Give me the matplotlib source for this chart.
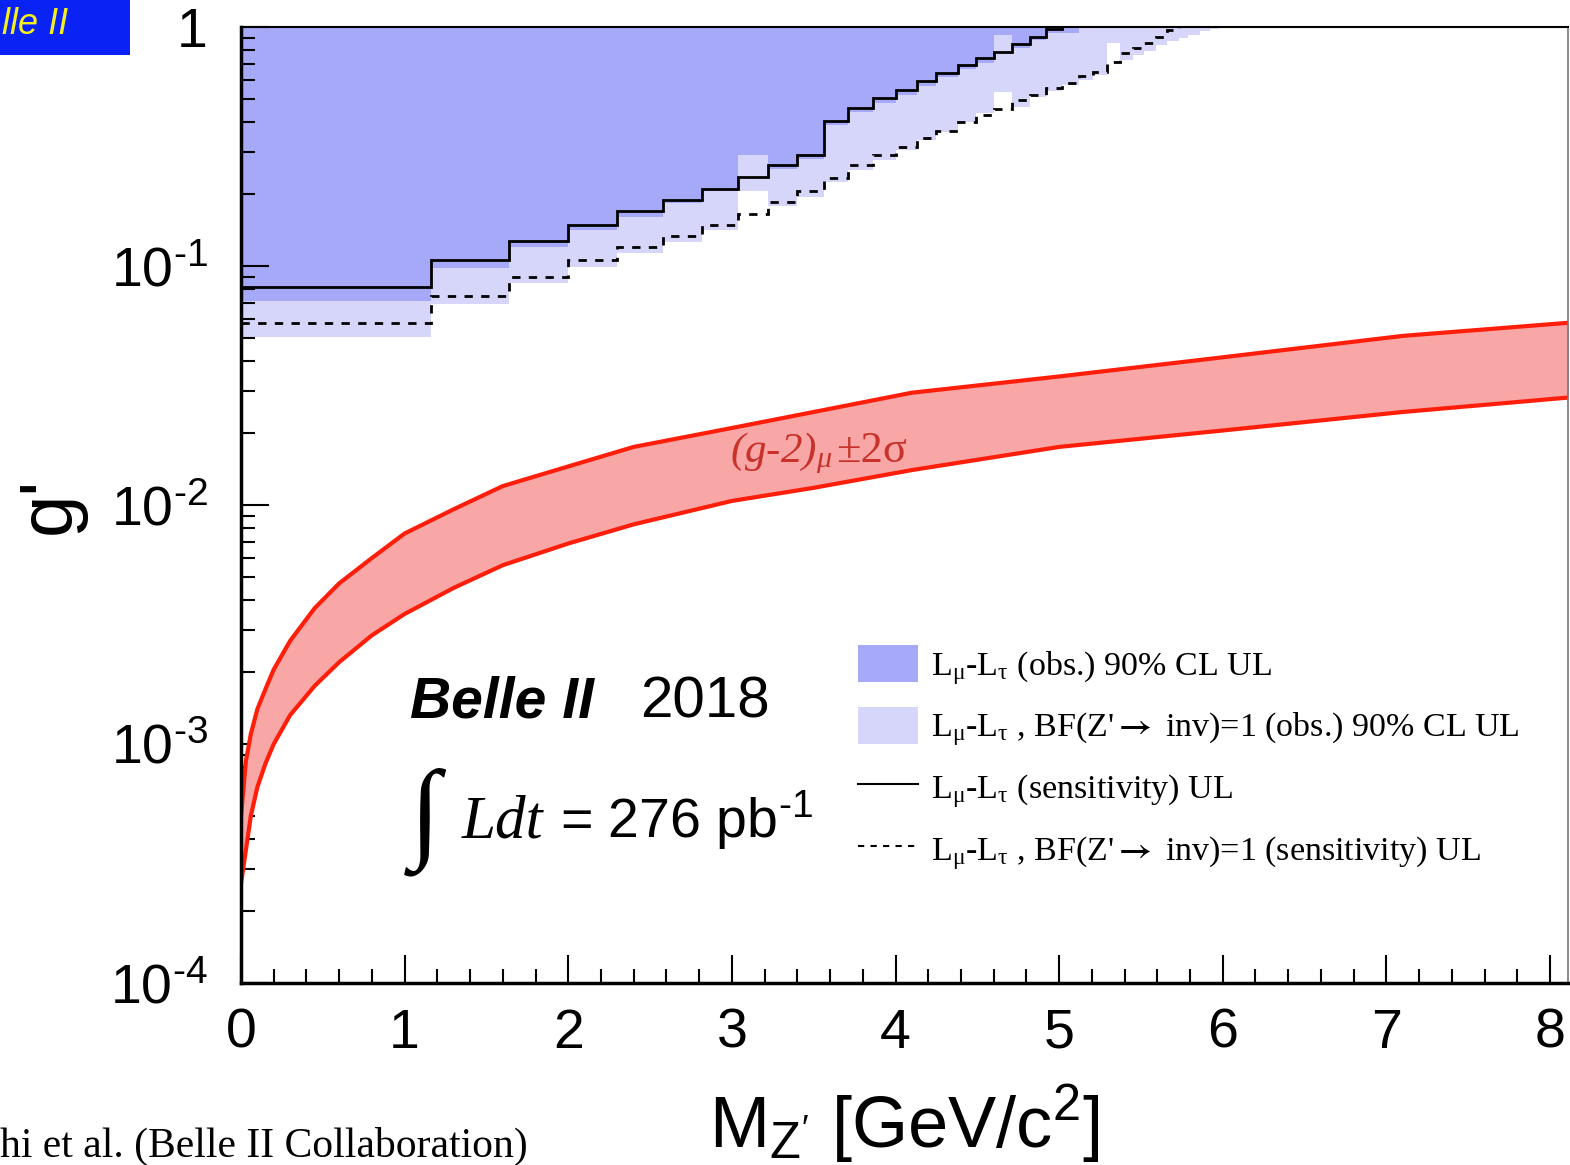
import matplotlib
matplotlib.use("Agg")

import matplotlib.pyplot as plt
from matplotlib.lines import Line2D
from matplotlib.patches import Patch, Rectangle
from matplotlib.ticker import LogLocator, MultipleLocator, NullFormatter


# bins de massa do Z' (GeV/c^2) e limites superiores em g'
mass_edges = [0.00, 1.16, 1.64, 2.00, 2.30, 2.58, 2.82, 3.04, 3.22, 3.40, 3.56,
              3.71, 3.86, 4.00, 4.13, 4.25, 4.38, 4.49, 4.60, 4.71, 4.82, 4.92,
              5.02, 5.12, 5.21, 5.29, 5.37, 5.45, 5.52, 5.59, 5.66, 5.73, 5.79,
              5.86, 5.92, 5.98]

ul_obs = [0.0714, 0.0978, 0.120, 0.141, 0.161, 0.184, 0.205, 0.291, 0.254,
          0.280, 0.389, 0.441, 0.481, 0.519, 0.566, 0.618, 0.667, 0.707, 0.926,
          0.817, 0.882, 0.947, 0.944,
          1.5, 1.5, 1.5, 1.5, 1.5, 1.5, 1.5, 1.5, 1.5, 1.5, 1.5, 1.5]

ul_obs_inv = [0.0506, 0.0693, 0.0851, 0.0993, 0.113, 0.126, 0.141, 0.205,
              0.178, 0.194, 0.225, 0.252, 0.278, 0.306, 0.337, 0.365, 0.402,
              0.436, 0.536, 0.463, 0.511, 0.540, 0.570, 0.600, 0.630, 0.857,
              0.728, 0.760, 0.790, 0.840, 0.870, 0.900, 0.930, 0.960, 0.985]

ul_sens = [0.0817, 0.106, 0.127, 0.148, 0.170, 0.189, 0.210, 0.235, 0.264,
           0.291, 0.404, 0.460, 0.503, 0.545, 0.593, 0.640, 0.693, 0.740, 0.789,
           0.849, 0.911, 0.978,
           1.5, 1.5, 1.5, 1.5, 1.5, 1.5, 1.5, 1.5, 1.5, 1.5, 1.5, 1.5, 1.5]

ul_sens_inv = [0.0579, 0.0747, 0.0897, 0.106, 0.120, 0.134, 0.148, 0.165,
               0.186, 0.205, 0.233, 0.265, 0.291, 0.315, 0.342, 0.368, 0.402,
               0.428, 0.454, 0.495, 0.519, 0.554, 0.583, 0.624, 0.650, 0.716,
               0.776, 0.814, 0.855, 0.911, 0.971,
               1.5, 1.5, 1.5, 1.5]

# banda (g-2)_mu +-2 sigma
gm2_mass = [0.0, 0.03, 0.06, 0.1, 0.15, 0.2, 0.3, 0.45, 0.6, 0.8, 1.0, 1.3,
            1.6, 2.0, 2.4, 3.0, 3.5, 4.1, 5.0, 6.0, 7.1, 8.2]
gm2_upper = [5.0e-4, 8.5e-4, 1.1e-3, 1.4e-3, 1.7e-3, 2.05e-3, 2.7e-3, 3.7e-3,
             4.7e-3, 6.0e-3, 7.6e-3, 9.6e-3, 1.2e-2, 1.45e-2, 1.75e-2, 2.1e-2,
             2.45e-2, 2.95e-2, 3.45e-2, 4.15e-2, 5.1e-2, 5.85e-2]
gm2_lower = [2.6e-4, 3.6e-4, 5.0e-4, 6.6e-4, 8.3e-4, 1.0e-3, 1.32e-3, 1.75e-3,
             2.2e-3, 2.85e-3, 3.5e-3, 4.5e-3, 5.6e-3, 6.9e-3, 8.3e-3, 1.04e-2,
             1.18e-2, 1.4e-2, 1.75e-2, 2.05e-2, 2.45e-2, 2.85e-2]

x_ticks = [0, 1, 2, 3, 4, 5, 6, 7, 8]
y_ticks = [1e-4, 1e-3, 1e-2, 1e-1, 1]
y_tick_labels = [r"$\mathregular{10^{‐4}}$", r"$\mathregular{10^{‐3}}$",
                 r"$\mathregular{10^{‐2}}$", r"$\mathregular{10^{‐1}}$", "1"]

legend_labels = [
    r"L$\mathregular{_μ}$-L$\mathregular{_τ}$ (obs.) 90% CL UL",
    r"L$\mathregular{_μ}$-L$\mathregular{_τ}$ , BF(Z'$\mathbf{\rightarrow}$ inv)=1 (obs.) 90% CL UL",
    r"L$\mathregular{_μ}$-L$\mathregular{_τ}$ (sensitivity) UL",
    r"L$\mathregular{_μ}$-L$\mathregular{_τ}$ , BF(Z'$\mathbf{\rightarrow}$ inv)=1 (sensitivity) UL",
]

SANS = "Liberation Sans"
SERIF = "Liberation Serif"
COR_ESCURA = "#a6a9f8"
COR_CLARA = "#d5d6f9"
COR_VERMELHA = "#ff1e0a"
COR_BANDA = "#f8a6a6"

plt.rcParams["font.family"] = [SANS, "DejaVu Sans"]
plt.rcParams["mathtext.fontset"] = "stix"

W, H = 1570, 1165


def px_x(p):
    return (p - 241) / (1568 - 241)


def px_y(p):
    return (983 - p) / (983 - 27)


fig = plt.figure(figsize=(W / 100, H / 100), dpi=100)
ax = fig.add_axes([241 / W, 1 - 983 / H, (1568 - 241) / W, (983 - 27) / H])

# regioes excluidas
ax.stairs(ul_obs_inv, mass_edges, baseline=1.5, fill=True, color=COR_CLARA, zorder=1)
ax.stairs(ul_obs, mass_edges, baseline=1.5, fill=True, color=COR_ESCURA, zorder=1.1)

# curvas de sensibilidade
ax.stairs(ul_sens, mass_edges, baseline=None, color="black", linewidth=2, zorder=3)
ax.stairs(ul_sens_inv, mass_edges, baseline=None, color="black", linewidth=2,
          linestyle=(0, (3, 3)), zorder=3)

# banda (g-2)
ax.fill_between(gm2_mass, gm2_lower, gm2_upper, color=COR_BANDA, linewidth=0, zorder=2)
ax.plot(gm2_mass, gm2_upper, color=COR_VERMELHA, linewidth=3, zorder=2.5)
ax.plot(gm2_mass, gm2_lower, color=COR_VERMELHA, linewidth=3, zorder=2.5)

ax.set_yscale("log")
ax.set_xlim(0, 8.11)
ax.set_ylim(1e-4, 1)

ax.set_xticks(x_ticks)
ax.set_xticklabels([str(t) for t in x_ticks])
ax.xaxis.set_minor_locator(MultipleLocator(0.2))
ax.set_yticks(y_ticks)
ax.set_yticklabels(y_tick_labels)
ax.yaxis.set_minor_locator(LogLocator(base=10, subs=range(2, 10)))
ax.yaxis.set_minor_formatter(NullFormatter())

ax.tick_params(which="both", direction="in", top=False, right=False,
               labelsize=40, width=1.5, colors="black")
ax.tick_params(which="major", length=20)
ax.tick_params(which="minor", length=10)
ax.tick_params(axis="x", pad=18)
ax.tick_params(axis="y", pad=24)

for lado in ["left", "bottom"]:
    ax.spines[lado].set_linewidth(2.5)
ax.spines["top"].set_linewidth(1.5)
ax.spines["right"].set_linewidth(1.2)
ax.spines["right"].set_color("#777777")

ax.set_xlabel(r"M$\mathregular{_{Z'}}$ [GeV/c$\mathregular{^{2}}$]", fontsize=52)
ax.xaxis.set_label_coords(0.5, px_y(1082))
ax.set_ylabel("g'", fontsize=55)
ax.yaxis.set_label_coords(px_x(86), 0.5)

# textos do grafico
ax.text(px_x(410), px_y(717), "Belle II", transform=ax.transAxes, fontsize=41,
        fontweight="bold", fontstyle="italic", va="baseline")
ax.text(px_x(640), px_y(717), "2018", transform=ax.transAxes, fontsize=42, va="baseline")
ax.text(px_x(410), px_y(822), "∫", transform=ax.transAxes, fontsize=80,
        family=SERIF, va="center")
ax.text(px_x(462), px_y(838), "Ldt", transform=ax.transAxes, fontsize=44,
        family=SERIF, fontstyle="italic", va="baseline")
ax.text(px_x(560), px_y(838), r"= 276 pb$\mathregular{^{‐1}}$", transform=ax.transAxes,
        fontsize=40, va="baseline")

ax.text(px_x(730), px_y(462), r"(g-2)$\mathregular{_μ}$", transform=ax.transAxes,
        fontsize=31, family=SERIF, fontstyle="italic", color="#c8322a", va="baseline")
ax.text(px_x(836), px_y(462), "±2σ", transform=ax.transAxes, fontsize=32,
        family=SERIF, color="#c8322a", va="baseline")

handles = [
    Patch(facecolor=COR_ESCURA, edgecolor="none"),
    Patch(facecolor=COR_CLARA, edgecolor="none"),
    Line2D([], [], color="black", linewidth=1.5),
    Line2D([], [], color="black", linewidth=1.5, linestyle=(0, (3, 3))),
]
ax.legend(handles, legend_labels, loc="upper left",
          bbox_to_anchor=(px_x(858), px_y(645)), frameon=False,
          prop={"family": [SERIF, "DejaVu Sans"], "size": 24.5},
          handlelength=1.75, handleheight=1.28, handletextpad=0.4,
          labelspacing=0.6, borderpad=0, borderaxespad=0)

# recortes do slide original
fig.patches.append(Rectangle((0, 1 - 55 / H), 130 / W, 55 / H, transform=fig.transFigure,
                             facecolor="#0b22f5", edgecolor="none"))
fig.text(0.001, 1 - 24 / H, "lle II", color="#f4f020", fontsize=26,
         fontstyle="italic", va="center")
fig.text(0.0, 8 / H, "hi et al. (Belle II Collaboration)", family=SERIF,
         fontsize=30, va="baseline")

fig.savefig("out.png", dpi=100)
